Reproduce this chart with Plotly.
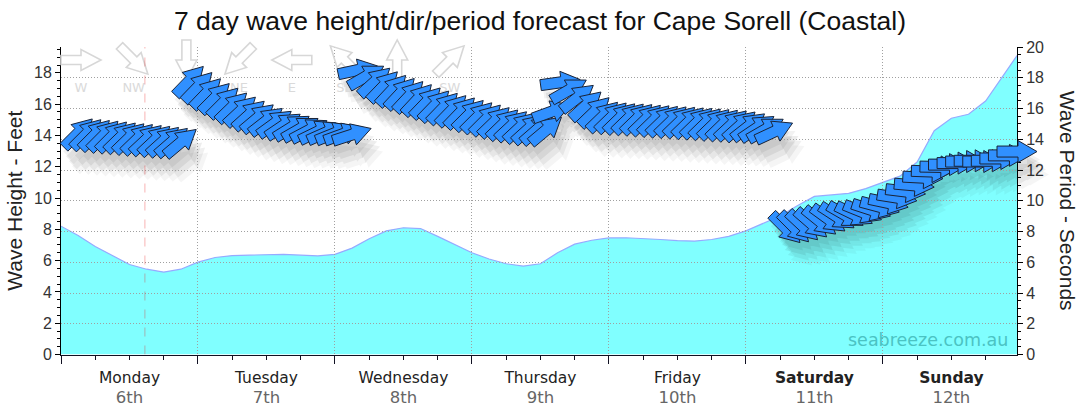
import numpy as np
import plotly.graph_objects as go

# ---------------- data ----------------
# wave height (feet) vs hours since Monday 00:00
height_time = [0, 3, 6, 9, 12, 15, 18, 21, 24, 27, 30, 33, 36, 39, 42, 45, 48, 51, 54, 57,
               60, 63, 66, 69, 72, 75, 78, 81, 84, 87, 90, 93, 96, 99, 102, 105, 108, 111,
               114, 117, 120, 123, 126, 129, 132, 135, 138, 141, 144, 147, 150, 153, 156,
               159, 162, 165, 167.5]
height_ft = [8.2, 7.6, 6.9, 6.3, 5.75, 5.45, 5.27, 5.45, 5.9, 6.2, 6.32, 6.35, 6.38, 6.4,
             6.35, 6.3, 6.4, 6.8, 7.4, 7.9, 8.1, 8.05, 7.55, 7.05, 6.5, 6.1, 5.8, 5.65, 5.8,
             6.5, 7.05, 7.3, 7.45, 7.46, 7.42, 7.35, 7.28, 7.25, 7.35, 7.55, 7.9, 8.35, 8.85,
             9.5, 10.1, 10.2, 10.3, 10.6, 11.0, 11.4, 12.3, 14.3, 15.1, 15.35, 16.2, 17.8, 19.1]

# swell arrows: time (h), period (s), direction swell comes from (deg)
arrow_time = [3, 4.5, 6, 7.5, 9, 10.5, 12, 13.5, 15, 16.5, 18, 19.5, 21,
              22.5, 24, 25.5, 27, 28.5, 30, 31.5, 33, 34.5, 36, 37.5, 39, 40.5, 42, 43.5, 45,
              46.5, 48, 49.5, 51,
              52, 53.5, 55, 56.5, 58, 59.5, 61, 62.5, 64, 65.5, 67, 68.5, 70, 71.5, 73, 74.5,
              76, 77.5, 79, 80.5, 82, 83.5, 85,
              86, 87.5, 89, 90.5, 92, 93.5, 95, 96.5, 98, 99.5, 101, 102.5, 104, 105.5, 107,
              108.5, 110, 111.5, 113, 114.5, 116, 117.5, 119, 120.5, 122, 123.5, 125,
              127, 128.5, 130, 131.5, 133, 134.5, 136, 137.5, 139, 140.5, 142, 143.5, 145,
              146.5, 148, 149.5, 151, 152.5, 154, 155.5, 157, 158.5, 160, 161.5, 163, 164.5,
              166, 167.5]
arrow_period = [14.4, 14.35, 14.3, 14.25, 14.2, 14.15, 14.1, 14.05, 14.0, 13.95, 13.9, 13.85, 13.8,
                17.8, 17.4, 17.0, 16.7, 16.4, 16.1, 15.85, 15.6, 15.4, 15.2, 15.05, 14.9, 14.8,
                14.7, 14.6, 14.5, 14.45, 14.4, 14.35, 14.3,
                18.5, 18.1, 17.75, 17.45, 17.2, 17.0, 16.8, 16.6, 16.4, 16.2, 16.05, 15.9, 15.75,
                15.6, 15.45, 15.3, 15.15, 15.0, 14.9, 14.8, 14.7, 14.65, 14.6,
                15.8, 17.7, 17.2, 16.7, 16.2, 15.8, 15.5, 15.45, 15.4, 15.38, 15.35, 15.3, 15.27,
                15.23, 15.2, 15.17, 15.13, 15.1, 15.06, 15.02, 14.98, 14.95, 14.9, 14.85, 14.75,
                14.65, 14.5,
                8.2, 8.25, 8.35, 8.5, 8.65, 8.8, 8.95, 9.05, 9.1, 9.25, 9.4, 9.6, 9.85, 10.2, 10.6,
                11.0, 11.5, 11.9, 12.2, 12.35, 12.45, 12.55, 12.6, 12.55, 12.6, 12.75, 12.95, 13.2]
arrow_dir = [225, 225, 225, 225, 225, 226, 226, 226, 227, 227, 228, 229, 230,
             224, 224, 224, 225, 225, 226, 227, 228, 230, 232, 234, 236, 238, 240, 242, 244,
             246, 248, 250, 252,
             258, 240, 228, 224, 223, 223, 223, 223, 224, 224, 224, 224, 224, 225, 225, 225,
             226, 226, 227, 227, 228, 229, 230,
             250, 262, 240, 232, 228, 226, 226, 226, 226, 226, 226, 226, 226, 226, 226, 226,
             226, 226, 226, 226, 226, 227, 228, 232, 236, 240, 245,
             315, 315, 313, 311, 309, 306, 303, 300, 296, 292, 288, 285, 282, 279, 277, 275,
             273, 272, 271, 270, 270, 270, 270, 270, 270, 270, 270, 270]

day_names = ["Monday", "Tuesday", "Wednesday", "Thursday", "Friday", "Saturday", "Sunday"]
day_dates = ["6th", "7th", "8th", "9th", "10th", "11th", "12th"]
day_bold = [False, False, False, False, False, True, True]

compass_labels = ["W", "NW", "N", "NE", "E", "SE", "S", "SW"]
compass_from = [270, 315, 0, 45, 90, 135, 180, 225]

now_hour = 14.7
title = "7 day wave height/dir/period forecast for Cape Sorell (Coastal)"

# ---------------- layout geometry ----------------
W, H = 1080, 414
PX_L, PX_R, PX_T, PX_B = 61, 1017, 47, 354.5
X_MAX = 167.5
FT_MAX = 19.65
S_MAX = 20.0
kx = X_MAX / (PX_R - PX_L)
ky = S_MAX / (PX_B - PX_T)

def px2t(px):
    return (px - PX_L) * kx

def py2s(py):
    return (PX_B - py) * ky

def arrow_pts(t, p, bearing, L=40, hl=19, hw=11, sw=5.5, ox=0, oy=0):
    b = np.radians(bearing)
    ux, uy = np.sin(b), np.cos(b)
    vx, vy = -uy, ux
    loc = [(-L / 2, -sw), (L / 2 - hl, -sw), (L / 2 - hl, -hw), (L / 2, 0),
           (L / 2 - hl, hw), (L / 2 - hl, sw), (-L / 2, sw)]
    xs, ys = [], []
    for a, c in loc:
        dx = a * ux + c * vx + ox
        dy = a * uy + c * vy - oy
        xs.append(t + dx * kx)
        ys.append(p + dy * ky)
    return xs, ys

def path_of(xs, ys):
    s = "M %.4f,%.4f " % (xs[0], ys[0])
    s += " ".join("L %.4f,%.4f" % (x, y) for x, y in zip(xs[1:], ys[1:]))
    return s + " Z"

fig = go.Figure()

# wave height area
fig.add_trace(go.Scatter(
    x=height_time, y=height_ft, mode="lines", fill="tozeroy",
    fillcolor="rgb(128,255,255)", line=dict(color="rgb(150,170,255)", width=1.2),
    xaxis="x", yaxis="y", hoverinfo="skip", showlegend=False))
fig.add_trace(go.Scatter(x=[None], y=[None], xaxis="x", yaxis="y2", showlegend=False,
                         hoverinfo="skip"))
fig.add_trace(go.Scatter(x=[None], y=[None], xaxis="x4", yaxis="y4", showlegend=False,
                         hoverinfo="skip"))

# shadows (union per layer)
for (ox, oy, a) in [(3, 8, 0.05), (6, 13, 0.07), (9, 18, 0.06), (12, 23, 0.04)]:
    sx, sy = [], []
    for t, p, d in zip(arrow_time, arrow_period, arrow_dir):
        xs, ys = arrow_pts(t, p, (d + 180) % 360, ox=ox, oy=oy)
        sx += xs + [xs[0], None]
        sy += ys + [ys[0], None]
    fig.add_trace(go.Scatter(x=sx, y=sy, mode="lines", fill="toself",
                             fillcolor="rgba(0,0,0,%.3f)" % a, line=dict(width=0),
                             xaxis="x3", yaxis="y3", hoverinfo="skip", showlegend=False))

# compass legend labels
cx = [81 + 52.7 * i for i in range(8)]
fig.add_trace(go.Scatter(
    x=[px2t(v) for v in cx], y=[py2s(89)] * 8, mode="text", text=compass_labels,
    textfont=dict(family="DejaVu Sans", size=13, color="rgb(218,218,218)"),
    xaxis="x3", yaxis="y3", hoverinfo="skip", showlegend=False))

shapes = []
for x0, fr in zip(cx, compass_from):
    xs, ys = arrow_pts(px2t(x0), py2s(60), (fr + 180) % 360, L=40, hl=20, hw=10.5, sw=4.5)
    shapes.append(dict(type="path", path=path_of(xs, ys), xref="x3", yref="y3",
                       line=dict(color="rgb(215,215,215)", width=1.6),
                       fillcolor="rgba(255,255,255,0)", layer="above"))
shapes.append(dict(type="line", x0=now_hour, x1=now_hour, y0=0, y1=FT_MAX, xref="x", yref="y",
                   line=dict(color="rgba(230,0,0,0.3)", width=1, dash="dash"), layer="above"))
for t, p, d in zip(arrow_time, arrow_period, arrow_dir):
    xs, ys = arrow_pts(t, p, (d + 180) % 360)
    shapes.append(dict(type="path", path=path_of(xs, ys), xref="x3", yref="y3",
                       line=dict(color="rgb(25,35,55)", width=1),
                       fillcolor="rgb(48,144,255)", layer="above"))

ticktext = []
for n, dte, b in zip(day_names, day_dates, day_bold):
    nm = "<b>%s</b>" % n if b else n
    ticktext.append("%s<br><span style='color:#666666;font-size:16.5px'>%s</span>" % (nm, dte))

xdom = [PX_L / W, PX_R / W]
ydom = [(H - PX_B) / H, (H - PX_T) / H]
axcol = "#111122"
gridcol = "rgb(160,160,160)"

fig.update_layout(
    width=W, height=H, margin=dict(l=0, r=0, t=0, b=0, pad=0, autoexpand=False),
    paper_bgcolor="white", plot_bgcolor="rgba(0,0,0,0)",
    showlegend=False,
    title=dict(text=title, x=0.5, xanchor="center", y=1 - 21 / H, yanchor="middle",
               automargin=False,
               font=dict(family="Liberation Sans, Arial", size=26.5, color="#111111")),
    xaxis=dict(domain=xdom, range=[0, X_MAX], anchor="y", showgrid=False, zeroline=False,
               automargin=False,
               showline=True, linecolor=axcol, linewidth=1,
               tickmode="array", tickvals=[0, 24, 48, 72, 96, 120, 144, 168],
               ticks="outside", ticklen=8, tickcolor=axcol, showticklabels=False,
               minor=dict(tickmode="linear", tick0=0, dtick=6, ticks="outside", ticklen=4,
                          tickcolor=axcol, showgrid=False)),
    yaxis=dict(domain=ydom, range=[0, FT_MAX], anchor="x", showgrid=False, zeroline=False,
               automargin=False,
               showline=True, linecolor="#000000", linewidth=1,
               tickmode="linear", tick0=0, dtick=2, ticks="outside", ticklen=5,
               tickcolor="#000000",
               tickfont=dict(family="Liberation Sans, Arial", size=16, color="#333333"),
               minor=dict(tickmode="linear", tick0=0, dtick=0.5, ticks="outside", ticklen=3,
                          tickcolor="#000000", showgrid=False)),
    yaxis2=dict(overlaying="y", side="right", anchor="x", range=[0, S_MAX], showgrid=False,
                automargin=False,
                zeroline=False, showline=True, linecolor="#000000", linewidth=1,
                tickmode="linear", tick0=0, dtick=2, ticks="outside", ticklen=5,
                tickcolor="#000000",
                tickfont=dict(family="Liberation Sans, Arial", size=16, color="#333333"),
                minor=dict(tickmode="linear", tick0=0, dtick=0.5, ticks="outside", ticklen=3,
                           tickcolor="#000000", showgrid=False)),
    xaxis4=dict(domain=xdom, range=[0, X_MAX], anchor="y4", showline=False, zeroline=False,
                automargin=False,
                showgrid=False, tickmode="array", tickvals=[12 + 24 * i for i in range(7)],
                ticktext=ticktext, ticks="", ticklabelstandoff=12,
                tickfont=dict(family="DejaVu Sans", size=15.5, color="#222222"),
                minor=dict(tickmode="array", tickvals=[24, 48, 72, 96, 120, 144],
                           showgrid=True, gridcolor=gridcol, griddash="1px,2px",
                           gridwidth=1, ticks="")),
    yaxis4=dict(domain=ydom, range=[0, S_MAX], anchor="x4", showline=False, zeroline=False,
                automargin=False,
                showgrid=True, gridcolor=gridcol, griddash="1px,2px", gridwidth=1,
                tickmode="array", tickvals=[2, 4, 6, 8, 10, 12, 14, 16, 18],
                showticklabels=False, ticks=""),
    xaxis3=dict(domain=[0, 1], range=[-PX_L * kx, X_MAX + (W - PX_R) * kx], anchor="y3",
                visible=False, automargin=False),
    yaxis3=dict(domain=[0, 1], range=[-(H - PX_B) * ky, S_MAX + PX_T * ky], anchor="x3",
                visible=False, automargin=False),
    shapes=shapes,
    annotations=[
        dict(text="Wave Height - Feet", x=15 / W, y=(H - (PX_T + PX_B) / 2) / H,
             xref="paper", yref="paper", showarrow=False, textangle=-90,
             xanchor="center", yanchor="middle",
             font=dict(family="Liberation Sans, Arial", size=21, color="#222222")),
        dict(text="Wave Period - Seconds", x=1067 / W, y=(H - (PX_T + PX_B) / 2) / H,
             xref="paper", yref="paper", showarrow=False, textangle=90,
             xanchor="center", yanchor="middle",
             font=dict(family="Liberation Sans, Arial", size=21, color="#222222")),
        dict(text="seabreeze.com.au", x=1010 / W, y=(H - 340) / H, xref="paper",
             yref="paper", showarrow=False, xanchor="right", yanchor="middle",
             font=dict(family="DejaVu Sans", size=17.5, color="rgb(75,195,195)")),
    ],
)

fig.write_html("out.html")
